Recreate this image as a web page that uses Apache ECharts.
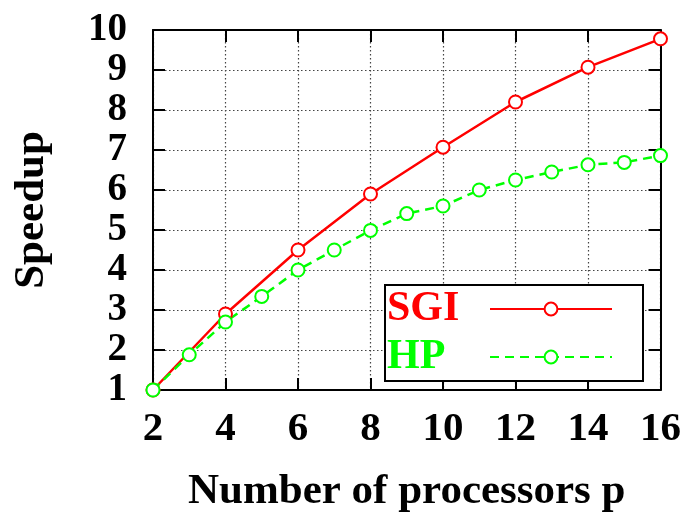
<!DOCTYPE html>
<html>
<head>
<meta charset="utf-8">
<script src="https://cdn.jsdelivr.net/npm/echarts@6/dist/echarts.min.js"></script>
<style>
  html, body { margin: 0; padding: 0; background: #fff; }
  #chart { width: 684px; height: 518px; }
</style>
</head>
<body>
<div id="chart"></div>
<script>
// Speedup measured against number of processors
const sgiProcs = [2, 4, 6, 8, 10, 12, 14, 16];
const sgiSpeedup = [1.0, 2.9, 4.5, 5.9, 7.07, 8.2, 9.07, 9.78];
const hpProcs = [2, 3, 4, 5, 6, 7, 8, 9, 10, 11, 12, 13, 14, 15, 16];
const hpSpeedup = [1.0, 1.88, 2.7, 3.34, 4.0, 4.5, 4.99, 5.41, 5.6, 6.0, 6.25, 6.45, 6.63, 6.69, 6.86];
const seriesNames = ['SGI', 'HP'];
const xTitle = 'Number of processors p';
const yTitle = 'Speedup';

const FONT = "'Liberation Serif', 'DejaVu Serif', serif";
const RED = '#ff0000';
const GREEN = '#00ff00';

function zip(xs, ys) { return xs.map((x, i) => [x, ys[i]]); }

function labelStyle(margin, size) {
  return {
    margin: margin,
    fontFamily: FONT, fontWeight: 'bold', fontSize: size, lineHeight: 30, color: '#000'
  };
}
const titleStyle = { fontFamily: FONT, fontWeight: 'bold', fontSize: 43, color: '#000' };
function gridLine() {
  return { show: true, lineStyle: { color: '#444', type: [1.5, 2.5], width: 1.2, opacity: 1 } };
}
const frameLine = { show: true, onZero: false, lineStyle: { color: '#000', width: 2 } };
const innerTick = { show: true, inside: true, length: 12, lineStyle: { color: '#000', width: 2 } };

const chart = echarts.init(document.getElementById('chart'), null, { renderer: 'canvas' });
chart.setOption({
  backgroundColor: '#fff',
  animation: false,
  grid: { left: 153, right: 23, top: 30, bottom: 128 },
  xAxis: [
    {
      type: 'value', min: 2, max: 16, interval: 2, position: 'bottom',
      axisLine: frameLine, axisTick: innerTick, splitLine: gridLine(),
      axisLabel: labelStyle(24, 41),
      name: xTitle, nameLocation: 'middle', nameGap: 80,
      nameTextStyle: titleStyle
    },
    {
      type: 'value', min: 2, max: 16, interval: 2, position: 'top',
      axisLine: frameLine, axisTick: innerTick, splitLine: { show: false },
      axisLabel: { show: false }
    }
  ],
  yAxis: [
    {
      type: 'value', min: 1, max: 10, interval: 1, position: 'left',
      axisLine: frameLine, axisTick: innerTick, splitLine: gridLine(),
      axisLabel: labelStyle(26, 39),
      name: yTitle, nameLocation: 'middle', nameGap: 100, nameRotate: 90,
      nameTextStyle: titleStyle
    },
    {
      type: 'value', min: 1, max: 10, interval: 1, position: 'right',
      axisLine: frameLine, axisTick: innerTick, splitLine: { show: false },
      axisLabel: { show: false }
    }
  ],
  legend: {
    orient: 'vertical',
    left: 385, top: 285,
    align: 'right',
    padding: [3, 30, 3, 2],
    itemGap: 6,
    itemWidth: 122, itemHeight: 16,
    borderColor: '#000', borderWidth: 2,
    backgroundColor: '#fff',
    data: seriesNames,
    formatter: name => (name === 'SGI' ? '{s|' : '{h|') + name + '}',
    textStyle: {
      rich: {
        s: { color: RED, fontFamily: FONT, fontWeight: 'bold', fontSize: 42, width: 98, align: 'left', lineHeight: 39 },
        h: { color: GREEN, fontFamily: FONT, fontWeight: 'bold', fontSize: 42, width: 98, align: 'left', lineHeight: 39 }
      }
    }
  },
  series: [
    {
      name: seriesNames[0], type: 'line', xAxisIndex: 0, yAxisIndex: 0,
      data: zip(sgiProcs, sgiSpeedup),
      color: RED, z: 3,
      symbol: 'emptyCircle', symbolSize: 13,
      lineStyle: { color: RED, width: 2.5, type: 'solid' },
      itemStyle: { color: RED, borderColor: RED, borderWidth: 2.5 }
    },
    {
      name: seriesNames[1], type: 'line', xAxisIndex: 0, yAxisIndex: 0,
      data: zip(hpProcs, hpSpeedup),
      color: GREEN, z: 3,
      symbol: 'emptyCircle', symbolSize: 13,
      lineStyle: { color: GREEN, width: 2.5, type: [9, 6] },
      itemStyle: { color: GREEN, borderColor: GREEN, borderWidth: 2.5 }
    }
  ]
});
</script>
</body>
</html>
